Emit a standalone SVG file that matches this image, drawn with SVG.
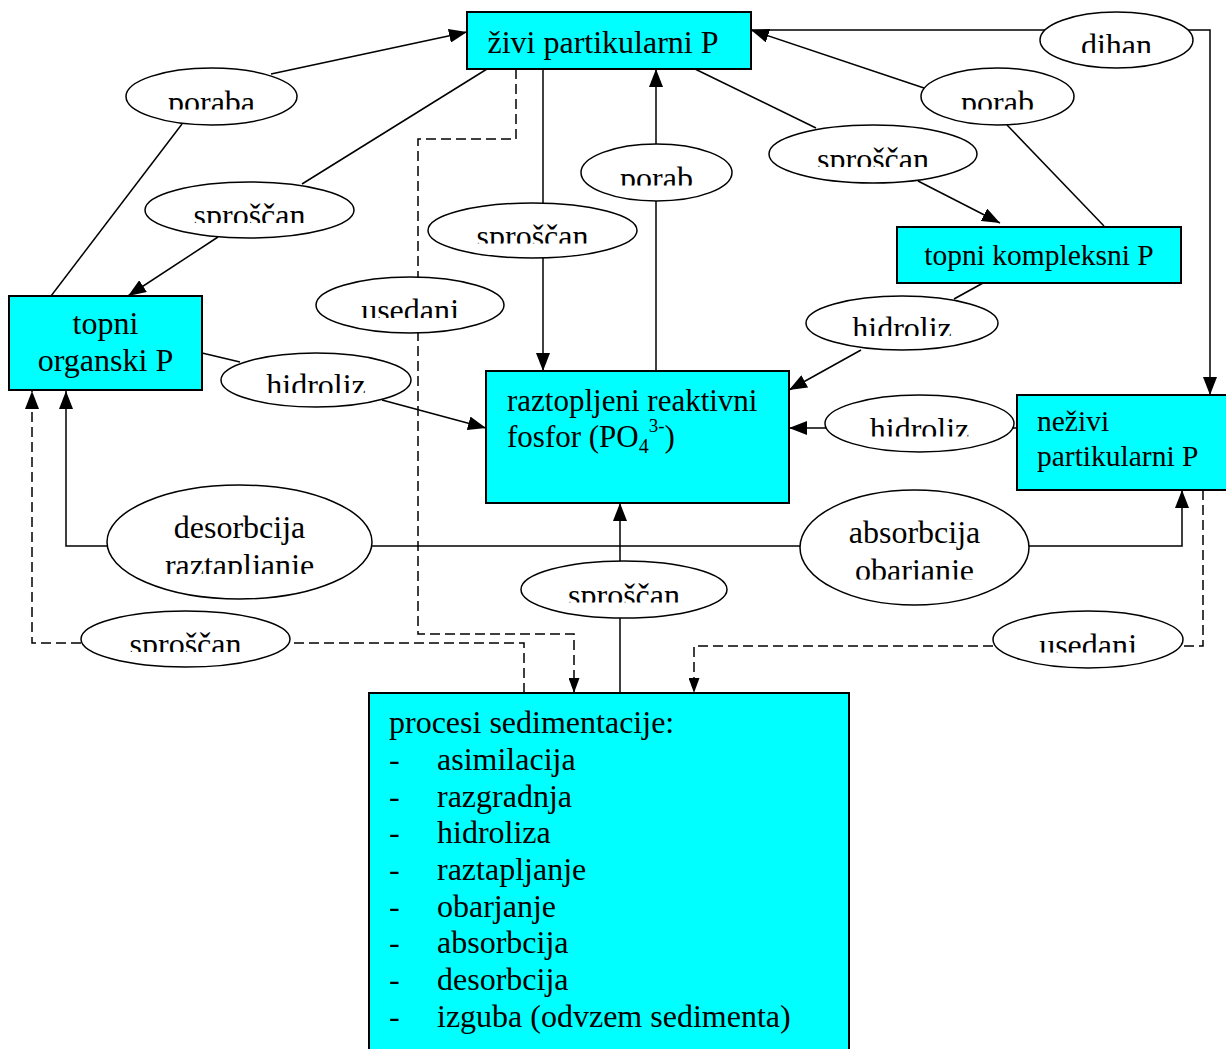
<svg xmlns="http://www.w3.org/2000/svg" width="1226" height="1049" viewBox="0 0 1226 1049">
<style>
text{font-family:"Liberation Serif","Times New Roman",serif;font-size:32px;fill:#000}
.node rect{fill:#00FFFF;stroke:#000;stroke-width:2}
.lbl ellipse{fill:#fff;stroke:#000;stroke-width:1.5}
.lbl text{text-anchor:middle}
.c{fill:none;stroke:#000;stroke-width:1.5}
.d{stroke-dasharray:10 5}
.m{text-anchor:middle}
</style>
<defs>
<marker id="a" markerUnits="userSpaceOnUse" markerWidth="18" markerHeight="14" refX="18" refY="7" orient="auto" viewBox="0 0 18 14"><path d="M0,0 L18,7 L0,14 z" fill="#000"/></marker>
<marker id="b" markerUnits="userSpaceOnUse" markerWidth="15" markerHeight="11" refX="15" refY="5.5" orient="auto" viewBox="0 0 15 11"><path d="M0,0 L15,5.5 L0,11 z" fill="#000"/></marker>
<clipPath id="k1" clipPathUnits="userSpaceOnUse"><rect x="120" y="60" width="185" height="49.5"/></clipPath>
<clipPath id="k2" clipPathUnits="userSpaceOnUse"><rect x="140" y="175" width="220" height="48"/></clipPath>
<clipPath id="k3" clipPathUnits="userSpaceOnUse"><rect x="423" y="196" width="220" height="47.5"/></clipPath>
<clipPath id="k4" clipPathUnits="userSpaceOnUse"><rect x="576" y="137" width="160" height="48.5"/></clipPath>
<clipPath id="k5" clipPathUnits="userSpaceOnUse"><rect x="764" y="118" width="220" height="49"/></clipPath>
<clipPath id="k6" clipPathUnits="userSpaceOnUse"><rect x="916" y="60" width="163" height="49.5"/></clipPath>
<clipPath id="k7" clipPathUnits="userSpaceOnUse"><rect x="1035" y="5" width="163" height="48"/></clipPath>
<clipPath id="k8" clipPathUnits="userSpaceOnUse"><rect x="311" y="270" width="198" height="48"/></clipPath>
<clipPath id="k9" clipPathUnits="userSpaceOnUse"><rect x="216" y="346" width="200" height="47"/></clipPath>
<clipPath id="k10" clipPathUnits="userSpaceOnUse"><rect x="801" y="290" width="202" height="46"/></clipPath>
<clipPath id="k11" clipPathUnits="userSpaceOnUse"><rect x="820" y="388" width="199" height="48.5"/></clipPath>
<clipPath id="k12" clipPathUnits="userSpaceOnUse"><rect x="102" y="480" width="275" height="94"/></clipPath>
<clipPath id="k13" clipPathUnits="userSpaceOnUse"><rect x="795" y="485" width="239" height="94.5"/></clipPath>
<clipPath id="k14" clipPathUnits="userSpaceOnUse"><rect x="516" y="555" width="216" height="47.5"/></clipPath>
<clipPath id="k15" clipPathUnits="userSpaceOnUse"><rect x="76" y="605" width="219" height="47"/></clipPath>
<clipPath id="k16" clipPathUnits="userSpaceOnUse"><rect x="988" y="605" width="200" height="47.5"/></clipPath>
</defs>
<rect width="1226" height="1049" fill="#fff"/>
<g id="connectors">
<path class="c" d="M51,296 L182,124"/>
<path class="c" d="M271,74 L467,32" marker-end="url(#a)"/>
<path class="c" d="M487,69 L302,184"/>
<path class="c" d="M218,237 L128,296" marker-end="url(#a)"/>
<path class="c" d="M543,69 V203"/>
<path class="c" d="M543,258 V371" marker-end="url(#a)"/>
<path class="c" d="M656,371 V201"/>
<path class="c" d="M656,144 V69" marker-end="url(#a)"/>
<path class="c" d="M695,69 L816,128"/>
<path class="c" d="M918,181 L1000,223" marker-end="url(#a)"/>
<path class="c" d="M1104,226 L1007,125"/>
<path class="c" d="M924,88 L751,30" marker-end="url(#a)"/>
<path class="c" d="M751,30 H1210 V395" marker-end="url(#a)"/>
<path class="c" d="M202,353 L240,362"/>
<path class="c" d="M382,400 L486,428" marker-end="url(#a)"/>
<path class="c" d="M983,283 L954,299"/>
<path class="c" d="M861,350 L789,390" marker-end="url(#a)"/>
<path class="c" d="M1017,428 H1010"/>
<path class="c" d="M827,428 H789" marker-end="url(#a)"/>
<path class="c" d="M107,546 H66 V391" marker-end="url(#a)"/>
<path class="c" d="M372,546 H800"/>
<path class="c" d="M1029,546 H1182 V490" marker-end="url(#a)"/>
<path class="c" d="M620,693 V618"/>
<path class="c" d="M620,561 V503" marker-end="url(#a)"/>
<path class="c d" d="M516,69 V139 H418 V634 H574 V693" marker-end="url(#b)"/>
<path class="c d" d="M524,693 V643 H290"/>
<path class="c d" d="M81,643 H32 V391" marker-end="url(#a)"/>
<path class="c d" d="M1203,490 V646 H1183"/>
<path class="c d" d="M993,646 H694 V693" marker-end="url(#b)"/>
</g>
<g id="lbl-poraba" class="lbl"><ellipse cx="211.5" cy="96.5" rx="85.5" ry="28.5"/><text x="211.5" y="112.5" clip-path="url(#k1)">poraba</text></g>
<g id="lbl-sproscan-1" class="lbl"><ellipse cx="249.5" cy="210" rx="104.5" ry="28"/><text x="249.5" y="226" clip-path="url(#k2)">sproščan</text></g>
<g id="lbl-sproscan-2" class="lbl"><ellipse cx="532.5" cy="230.5" rx="104.5" ry="27.5"/><text x="532.5" y="246.5" clip-path="url(#k3)">sproščan</text></g>
<g id="lbl-porab-1" class="lbl"><ellipse cx="656.5" cy="172.5" rx="75.5" ry="28.5"/><text x="656.5" y="188.5" clip-path="url(#k4)">porab</text></g>
<g id="lbl-sproscan-3" class="lbl"><ellipse cx="873" cy="154" rx="104" ry="29"/><text x="873" y="170" clip-path="url(#k5)">sproščan</text></g>
<g id="lbl-porab-2" class="lbl"><ellipse cx="997.5" cy="96.5" rx="76.5" ry="28.5"/><text x="997.5" y="112.5" clip-path="url(#k6)">porab</text></g>
<g id="lbl-dihan" class="lbl"><ellipse cx="1116.5" cy="40" rx="76.5" ry="28"/><text x="1116.5" y="56" clip-path="url(#k7)">dihan</text></g>
<g id="lbl-usedanj-1" class="lbl"><ellipse cx="410" cy="305" rx="94" ry="28"/><text x="410" y="321" clip-path="url(#k8)">usedanj</text></g>
<g id="lbl-hidroliz-1" class="lbl"><ellipse cx="316" cy="380" rx="95" ry="27"/><text x="316" y="396" clip-path="url(#k9)">hidroliz</text></g>
<g id="lbl-hidroliz-2" class="lbl"><ellipse cx="902" cy="323" rx="96" ry="27"/><text x="902" y="339" clip-path="url(#k10)">hidroliz</text></g>
<g id="lbl-hidroliz-3" class="lbl"><ellipse cx="919.5" cy="423.5" rx="94.5" ry="28.5"/><text x="919.5" y="439.5" clip-path="url(#k11)">hidroliz</text></g>
<g id="lbl-desorbcija" class="lbl"><ellipse cx="239.5" cy="542" rx="132.5" ry="57"/><text x="239.5" y="538" clip-path="url(#k12)">desorbcija<tspan x="239.5" y="576">raztapljanje</tspan></text></g>
<g id="lbl-absorbcija" class="lbl"><ellipse cx="914.5" cy="547.5" rx="114.5" ry="57.5"/><text x="914.5" y="543" clip-path="url(#k13)">absorbcija<tspan x="914.5" y="581">obarjanje</tspan></text></g>
<g id="lbl-sproscan-4" class="lbl"><ellipse cx="624" cy="589.5" rx="103" ry="28.5"/><text x="624" y="605.5" clip-path="url(#k14)">sproščan</text></g>
<g id="lbl-sproscan-5" class="lbl"><ellipse cx="185.5" cy="639" rx="104.5" ry="28"/><text x="185.5" y="655" clip-path="url(#k15)">sproščan</text></g>
<g id="lbl-usedanj-2" class="lbl"><ellipse cx="1088" cy="639.5" rx="95" ry="28.5"/><text x="1088" y="655.5" clip-path="url(#k16)">usedanj</text></g>
<g id="node-zivi" class="node"><rect x="467" y="12" width="284" height="57"/><text class="m" x="603" y="53">živi partikularni P</text></g>
<g id="node-kompleksni" class="node"><rect x="897" y="227" width="284" height="56"/><text class="m" x="1039" y="265" style="font-size:29.5px">topni kompleksni P</text></g>
<g id="node-organski" class="node"><rect x="9" y="296" width="193" height="94"/><text class="m" x="105.5" y="334">topni<tspan x="105.5" y="371">organski P</tspan></text></g>
<g id="node-raztopljeni" class="node"><rect x="486" y="371" width="303" height="132"/><text x="507" y="411" style="font-size:31px">raztopljeni reaktivni</text><text x="507" y="447" style="font-size:31px">fosfor (PO<tspan dy="6" style="font-size:20px">4</tspan><tspan dy="-21" style="font-size:19px">3-</tspan><tspan dy="15">)</tspan></text></g>
<g id="node-nezivi" class="node"><rect x="1017" y="395" width="215" height="95"/><text x="1037" y="431" style="font-size:29.5px">neživi<tspan x="1037" y="466">partikularni P</tspan></text></g>
<g id="node-procesi" class="node"><rect x="369" y="693" width="480" height="370"/>
<text x="389" y="733">procesi sedimentacije:</text>
<text x="389" y="770">-</text><text x="437" y="770">asimilacija</text>
<text x="389" y="807">-</text><text x="437" y="807">razgradnja</text>
<text x="389" y="843">-</text><text x="437" y="843">hidroliza</text>
<text x="389" y="880">-</text><text x="437" y="880">raztapljanje</text>
<text x="389" y="917">-</text><text x="437" y="917">obarjanje</text>
<text x="389" y="953">-</text><text x="437" y="953">absorbcija</text>
<text x="389" y="990">-</text><text x="437" y="990">desorbcija</text>
<text x="389" y="1027">-</text><text x="437" y="1027">izguba (odvzem sedimenta)</text>
</g>
</svg>
